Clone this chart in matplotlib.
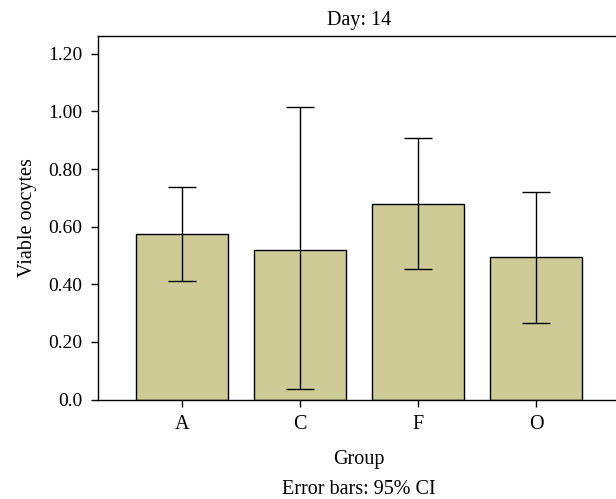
import matplotlib
matplotlib.use("Agg")
import matplotlib.pyplot as plt
import numpy as np

categories = ["A", "C", "F", "O"]
means = [0.576, 0.520, 0.680, 0.494]
ci_low = [0.413, 0.037, 0.453, 0.265]
ci_high = [0.737, 1.014, 0.909, 0.721]
yticks = [0.0, 0.2, 0.4, 0.6, 0.8, 1.0, 1.2]
ytick_labels = ["0.0", "0.20", "0.40", "0.60", "0.80", "1.00", "1.20"]

plt.rcParams['font.family'] = ['Liberation Serif', 'DejaVu Serif']
FS = 14.5

fig = plt.figure(figsize=(6.16, 4.99), dpi=100)
ax = fig.add_axes([98/616, 99.5/499, (620-98)/616, 363.8/499])

x = np.arange(len(categories))
m = np.array(means)
lo = m - np.array(ci_low)
hi = np.array(ci_high) - m
ax.bar(x, m, width=0.775, color="#CECB97", edgecolor="black", linewidth=1.0, zorder=2)
ax.errorbar(x, m, yerr=[lo, hi], fmt="none", ecolor="black", elinewidth=1.0,
            capsize=10, capthick=1.0, zorder=3)

ax.set_xlim(-0.712, 3.712)
ax.set_ylim(0, 1.263)
ax.set_xticks(x)
ax.set_xticklabels(categories, fontsize=FS)
ax.set_yticks(yticks)
ax.set_yticklabels(ytick_labels, fontsize=14)
ax.tick_params(axis='both', direction='out', length=5, width=1, colors='black')
ax.tick_params(axis='x', pad=6)
ax.tick_params(axis='y', pad=6)
for s in ax.spines.values():
    s.set_linewidth(1.0)
    s.set_color("black")

ax.set_ylabel("Viable oocytes", fontsize=FS, labelpad=8)
ax.set_xlabel("Group", fontsize=FS, labelpad=12)
fig.text(359/616, 1 - 21/499, "Day: 14", fontsize=FS, ha="center", va="center")
fig.text(359/616, 1 - 489/499, "Error bars: 95% CI", fontsize=FS, ha="center", va="center")

fig.savefig("out.png", dpi=100)
